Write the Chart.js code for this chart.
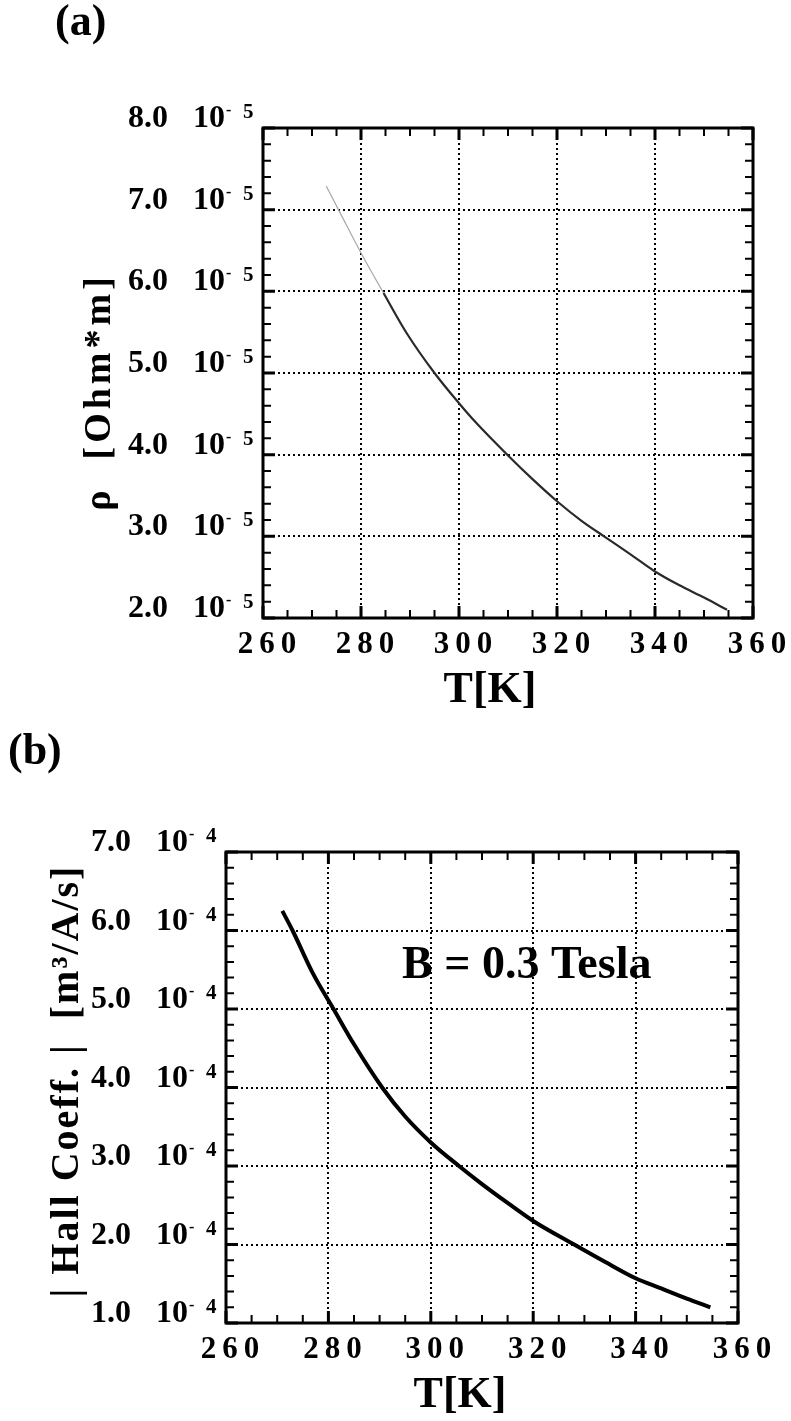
<!DOCTYPE html>
<html><head><meta charset="utf-8">
<script src="https://cdn.jsdelivr.net/npm/chart.js@4.4.1/dist/chart.umd.min.js"></script>
<style>
html,body{margin:0;padding:0;background:#fff;width:791px;height:1421px;overflow:hidden}
.w{position:absolute;left:0;width:791px}
canvas{display:block}
</style></head><body>
<div class="w" style="top:0;height:711px"><canvas id="ca" width="791" height="711"></canvas></div>
<div class="w" style="top:711px;height:710px"><canvas id="cb" width="791" height="710"></canvas></div>
<script>
// ---- data ----
const tempA = [272.9, 276, 280, 284.6, 289.3, 295, 300, 303.5, 310, 315, 320, 325, 329.6, 335, 340, 345, 350, 354.7];
const rhoA  = [7.29, 6.93, 6.47, 5.98, 5.49, 5.0, 4.63, 4.39, 3.99, 3.70, 3.43, 3.19, 3.0, 2.78, 2.57, 2.40, 2.25, 2.10];
const tempB = [271, 273, 277, 281, 285, 290.5, 295, 300, 305.5, 310, 315, 320, 328, 334, 340, 345, 350, 354.6];
const hallB = [6.25, 6.0, 5.45, 5.0, 4.55, 4.0, 3.63, 3.3, 3.0, 2.77, 2.53, 2.3, 2.0, 1.78, 1.57, 1.44, 1.31, 1.2];
const xTickLabels = ['260','280','300','320','340','360'];
const yTickLabelsA = ['2.0','3.0','4.0','5.0','6.0','7.0','8.0'];
const yTickLabelsB = ['1.0','2.0','3.0','4.0','5.0','6.0','7.0'];
const expA = '5', expB = '4';

const SERIF = '"Liberation Serif","Times New Roman",serif';

function framePlugin(cfg){
  return {
    id:'frame'+cfg.id,
    afterDraw(chart){
      const ctx = chart.ctx, a = chart.chartArea;
      const xs = chart.scales.x, ys = chart.scales.y;
      ctx.save();
      ctx.fillStyle = '#000'; ctx.strokeStyle = '#000';
      ctx.lineCap = 'butt';
      const nx = Math.round((xs.max - xs.min)/5);
      for (let i=0;i<=nx;i++){
        const v = xs.min + i*5, p = xs.getPixelForValue(v);
        const major = i%4===0, L = major?12:8;
        ctx.lineWidth = major?3:2;
        ctx.beginPath(); ctx.moveTo(p,a.bottom); ctx.lineTo(p,a.bottom-L);
        ctx.moveTo(p,a.top); ctx.lineTo(p,a.top+L); ctx.stroke();
      }
      const ny = Math.round((ys.max - ys.min)/0.2);
      for (let i=0;i<=ny;i++){
        const v = ys.min + i*0.2, p = ys.getPixelForValue(v);
        const major = i%5===0, L = major?12:8;
        ctx.lineWidth = major?3:2;
        ctx.beginPath(); ctx.moveTo(a.left,p); ctx.lineTo(a.left+L,p);
        ctx.moveTo(a.right,p); ctx.lineTo(a.right-L,p); ctx.stroke();
      }
      ctx.lineWidth = 3;
      ctx.strokeRect(a.left, a.top, a.right-a.left, a.bottom-a.top);
      ctx.textAlign = 'left'; ctx.textBaseline = 'alphabetic';
      ys.ticks.forEach((t,i)=>{
        const p = ys.getPixelForValue(t.value);
        ctx.font = 'bold 32px '+SERIF;
        ctx.fillText(cfg.yLabels[i], a.left-135, p-1);
        ctx.fillText('10', a.left-70, p-1);
        ctx.font = 'bold 16px '+SERIF;
        ctx.fillText('-', a.left-37, p-13);
        ctx.font = 'bold 21px '+SERIF;
        ctx.fillText(cfg.exp, a.left-20, p-10);
      });
      ctx.font = 'bold 31px '+SERIF;
      ctx.letterSpacing = '6px';
      xs.ticks.forEach((t,i)=>{
        const p = xs.getPixelForValue(t.value);
        const w = ctx.measureText(xTickLabels[i]).width - 6;
        ctx.fillText(xTickLabels[i], p+4-w/2, a.bottom+35);
      });
      ctx.letterSpacing = '0px';
      ctx.font = 'bold 44px '+SERIF;
      ctx.textAlign = 'center';
      ctx.fillText('T[K]', (a.left+a.right)/2 + cfg.xTitleDx, a.bottom+84);
      ctx.save();
      ctx.translate(cfg.yTitleX, cfg.yTitleY);
      ctx.rotate(-Math.PI/2);
      ctx.font = 'bold '+cfg.yTitleSize+'px '+SERIF;
      ctx.letterSpacing = cfg.yTitleLS+'px';
      ctx.fillText(cfg.yTitle, 0, 0);
      ctx.restore();
      ctx.textAlign = 'left';
      ctx.font = 'bold 44px '+SERIF;
      ctx.fillText(cfg.panel, cfg.panelX, cfg.panelY);
      if (cfg.note){
        ctx.font = 'bold 46px '+SERIF;
        ctx.fillText(cfg.note, cfg.noteX, cfg.noteY);
      }
      ctx.restore();
    }
  };
}

function makeChart(id, cfg){
  const W = 791, H = cfg.H;
  const pts = cfg.xs.map((x,i)=>({x, y: cfg.ys[i]}));
  return new Chart(document.getElementById(id), {
    type:'scatter',
    data:{datasets:[{
      data: pts, showLine:true, pointRadius:0,
      borderColor: cfg.color, borderWidth: cfg.lw,
      cubicInterpolationMode:'monotone',
      segment: cfg.segment || {}
    }]},
    options:{
      responsive:false, animation:false, devicePixelRatio:1,
      layout:{padding:{left:0, top:cfg.area.top, right:W-cfg.area.right, bottom:0}},
      plugins:{legend:{display:false}, tooltip:{enabled:false}},
      scales:{
        x:{type:'linear', min:260, max:360,
           ticks:{stepSize:20, display:false},
           grid:{color:'#000', lineWidth:2, drawTicks:false, tickLength:0},
           border:{display:false, dash:[2,3]},
           afterFit(s){ s.height = H - cfg.area.bottom; }},
        y:{type:'linear', min:cfg.ymin, max:cfg.ymax,
           ticks:{stepSize:1, display:false},
           grid:{color:'#000', lineWidth:2, drawTicks:false, tickLength:0},
           border:{display:false, dash:[2,3]},
           afterFit(s){ s.width = cfg.area.left; }}
      }
    },
    plugins:[framePlugin(cfg)]
  });
}

makeChart('ca', {
  id:'a', H:711, area:{left:263, top:128, right:753, bottom:618},
  xs: tempA, ys: rhoA, ymin:2, ymax:8, color:'#2a2a2a', lw:2.2,
  segment:{borderColor: c => (c.p0.parsed.x < 284 ? '#a8a8a8' : '#2a2a2a'),
           borderWidth: c => (c.p0.parsed.x < 284 ? 1.2 : 2.2)},
  yLabels: yTickLabelsA, exp: expA,
  yTitle:'\u03C1  [Ohm*m]', yTitleX:110, yTitleY:392, yTitleSize:38, yTitleLS:4, xTitleDx:-18,
  panel:'(a)', panelX:55, panelY:35
});
makeChart('cb', {
  id:'b', H:710, area:{left:226, top:141, right:738, bottom:612},
  xs: tempB, ys: hallB, ymin:1, ymax:7, color:'#000', lw:4,
  yLabels: yTickLabelsB, exp: expB,
  yTitle:'| Hall Coeff. |  [m\u00B3/A/s]', yTitleX:78, yTitleY:370, yTitleSize:40, yTitleLS:2, xTitleDx:-22,
  panel:'(b)', panelX:8, panelY:53,
  note:'B = 0.3 Tesla', noteX:402, noteY:267
});
</script>
</body></html>
